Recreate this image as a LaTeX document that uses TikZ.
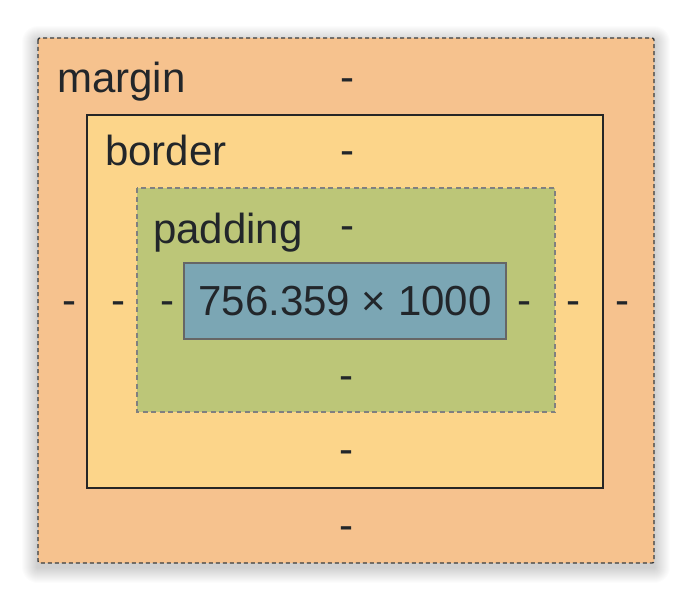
\documentclass[tikz,border=0pt]{standalone}
\usepackage{fontspec}
\setmainfont{Liberation Sans}
\definecolor{marginc}{HTML}{F6C28E}
\definecolor{borderc}{HTML}{FCD58A}
\definecolor{paddingc}{HTML}{BCC678}
\definecolor{contentc}{HTML}{7BA6B4}
\definecolor{txtc}{HTML}{22262A}
\begin{document}
\begin{tikzpicture}[x=1pt,y=-1pt,
    lbl/.style={font=\fontsize{42}{50}\selectfont, text=txtc, inner sep=0pt}]
    \useasboundingbox (0,0) rectangle (692,602);
    % soft shadow
    \foreach \i in {1,...,16}
        \fill[black, opacity=0.01, rounded corners=\i pt]
        (38-\i,38-\i+4) rectangle (654+\i,563+\i+4);

    \draw[fill=marginc, draw=txtc!90, dash pattern=on 4pt off 3pt, line width=1.4pt, rounded corners=2pt] (38,38) rectangle (654,563);
    \draw[fill=borderc, draw=black!85, line width=1.8pt] (87,115) rectangle (603,488);
    \draw[fill=paddingc, draw=gray, dash pattern=on 5pt off 3.5pt, line width=1.3pt] (137,188) rectangle (555,412);
    \draw[fill=contentc, draw=gray!80!black, line width=1.5pt] (184,263) rectangle (506,339);

    \node[lbl, anchor=base west] (margin) at (57,92) {margin};
    \node[lbl, anchor=base west] (border) at (105,165) {border};
    \node[lbl, anchor=base west] (padding) at (153,243) {padding};
    \node[lbl] (size) at (345,301) {756.359 × 1000};

    % the dashes
    \foreach \name/\x/\y in {mt/347/80, bt/347/153, pt/347/228,
        pb/346/378, bb/346/452, mb/346/528,
        ml/69/303, bl/118/303, pl/167/303,
        pr/524/303, br/573/303, mr/622/303}
        \node[lbl, anchor=base] (\name) at (\x,\y+11) {-};
\end{tikzpicture}
\end{document}
